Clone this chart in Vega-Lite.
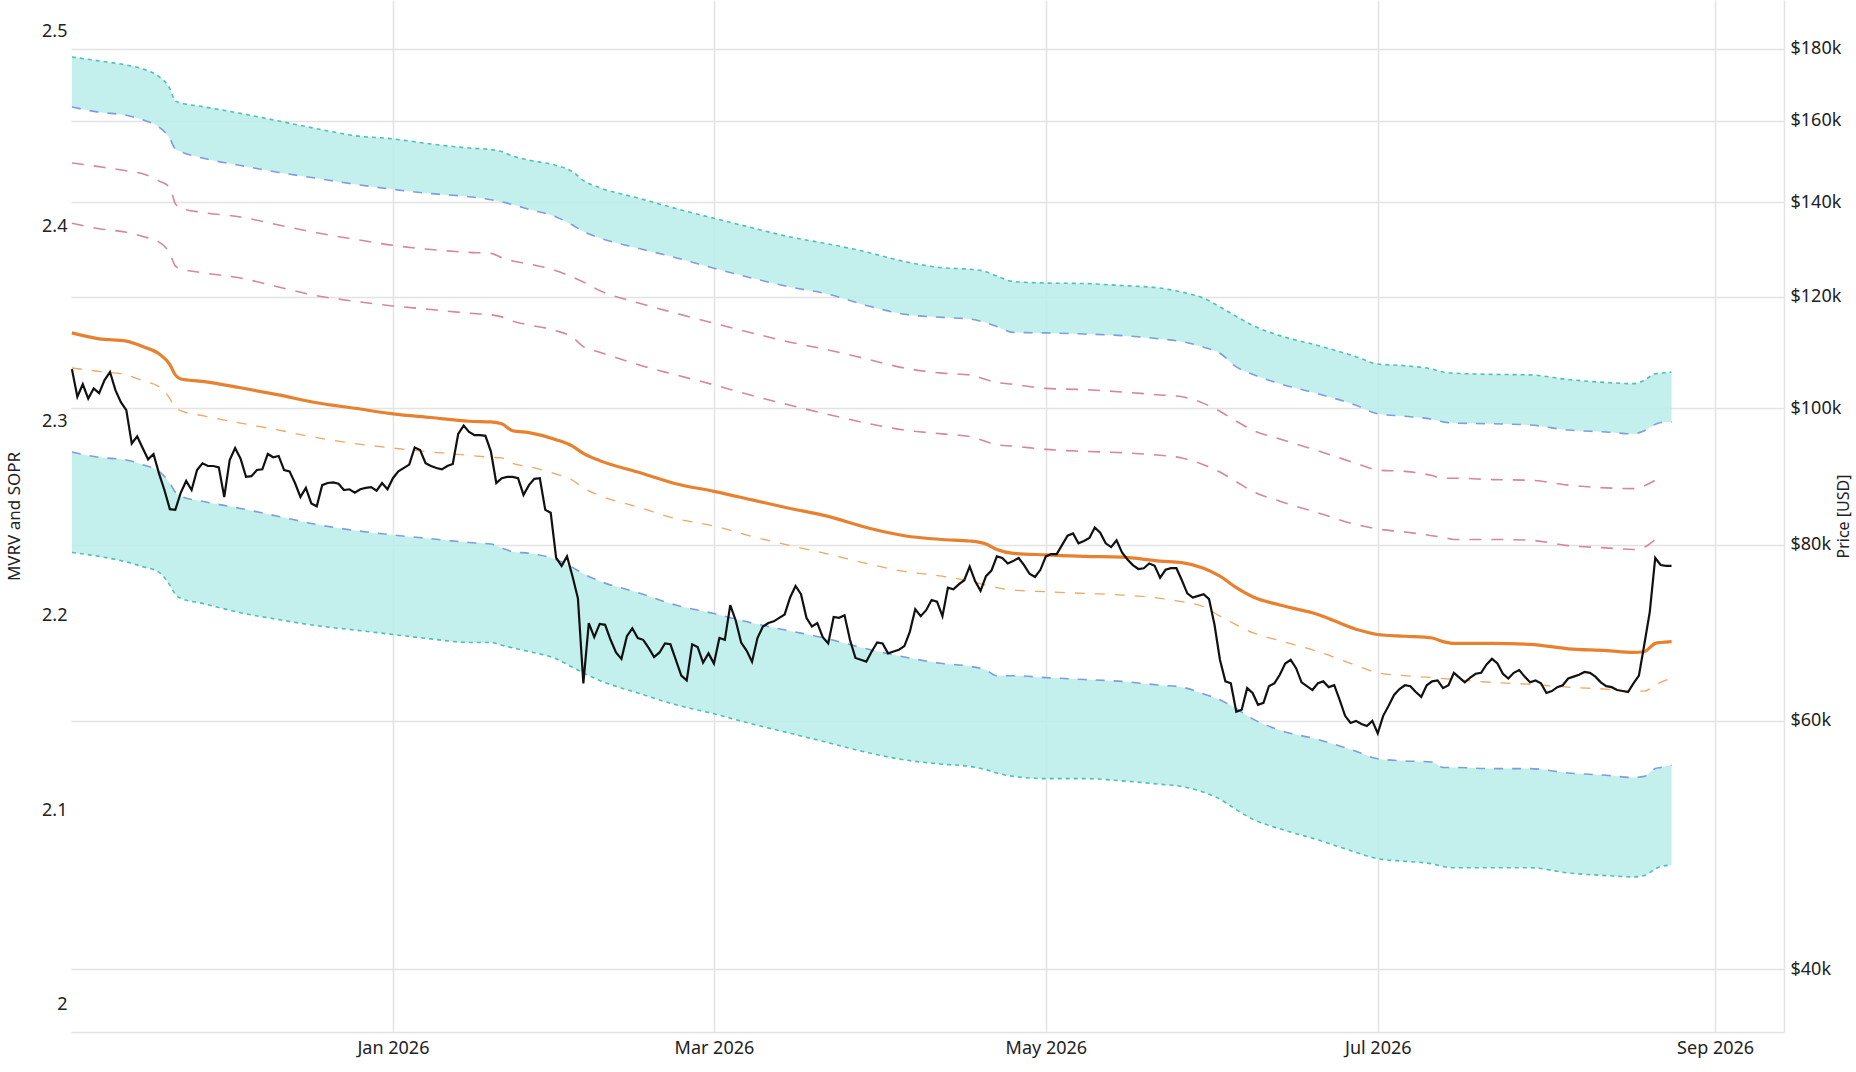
{
  "$schema": "https://vega.github.io/schema/vega-lite/v6.json",
  "width": 1713,
  "height": 1032,
  "autosize": {"type": "none"},
  "padding": {"left": 71, "top": 0, "right": 72, "bottom": 40},
  "background": "white",
  "config": {
    "view": {"stroke": null},
    "font": "Noto Sans",
    "axis": {"labelFont": "Noto Sans", "titleFont": "Noto Sans", "labelColor": "#222222", "titleColor": "#222222", "titleFontWeight": "normal"}
  },
  "datasets": {
    "mvrv": [{"date": "2025-11-03", "v": 2.0}, {"date": "2025-11-03", "v": 2.5}],
    "bands": [
      {"date": "2025-11-03", "ut": 177500, "ub": 163600, "pu": 149300, "pl": 135300, "os": 113100, "od": 106800, "lt": 93100, "lb": 79000},
      {"date": "2025-11-08", "ut": 176400, "ub": 162200, "pu": 148400, "pl": 134100, "os": 112000, "od": 106200, "lt": 92300, "lb": 78500},
      {"date": "2025-11-13", "ut": 175200, "ub": 161400, "pu": 147400, "pl": 133300, "os": 111600, "od": 105600, "lt": 91900, "lb": 77800},
      {"date": "2025-11-16", "ut": 174100, "ub": 160200, "pu": 146700, "pl": 132400, "os": 110600, "od": 104600, "lt": 91200, "lb": 77200},
      {"date": "2025-11-19", "ut": 171900, "ub": 158300, "pu": 145000, "pl": 131200, "os": 109300, "od": 103600, "lt": 90200, "lb": 76500},
      {"date": "2025-11-21", "ut": 168600, "ub": 155400, "pu": 143400, "pl": 128800, "os": 107400, "od": 101600, "lt": 88500, "lb": 74900},
      {"date": "2025-11-22", "ut": 165200, "ub": 152700, "pu": 139700, "pl": 126200, "os": 105600, "od": 100100, "lt": 87200, "lb": 73800},
      {"date": "2025-11-23", "ut": 164700, "ub": 152100, "pu": 138700, "pl": 125600, "os": 104900, "od": 99600, "lt": 86600, "lb": 73300},
      {"date": "2025-11-27", "ut": 163700, "ub": 150500, "pu": 137700, "pl": 124800, "os": 104500, "od": 98800, "lt": 85900, "lb": 72700},
      {"date": "2025-12-04", "ut": 161900, "ub": 148700, "pu": 136700, "pl": 123700, "os": 103400, "od": 97600, "lt": 84900, "lb": 71600},
      {"date": "2025-12-11", "ut": 159900, "ub": 147000, "pu": 134900, "pl": 121900, "os": 102200, "od": 96500, "lt": 83800, "lb": 70800},
      {"date": "2025-12-18", "ut": 157900, "ub": 145600, "pu": 133200, "pl": 120200, "os": 100900, "od": 95300, "lt": 82700, "lb": 70100},
      {"date": "2025-12-25", "ut": 156100, "ub": 144200, "pu": 131800, "pl": 119100, "os": 100000, "od": 94400, "lt": 81900, "lb": 69600},
      {"date": "2026-01-01", "ut": 155300, "ub": 143000, "pu": 130500, "pl": 118200, "os": 99100, "od": 93700, "lt": 81300, "lb": 69100},
      {"date": "2026-01-08", "ut": 154000, "ub": 142000, "pu": 129600, "pl": 117500, "os": 98500, "od": 93100, "lt": 80800, "lb": 68600},
      {"date": "2026-01-15", "ut": 153000, "ub": 141300, "pu": 129000, "pl": 116800, "os": 97900, "od": 92600, "lt": 80300, "lb": 68200},
      {"date": "2026-01-19", "ut": 152600, "ub": 140600, "pu": 128800, "pl": 116500, "os": 97800, "od": 92300, "lt": 80100, "lb": 68200},
      {"date": "2026-01-21", "ut": 152100, "ub": 140100, "pu": 127900, "pl": 116100, "os": 97500, "od": 92200, "lt": 79600, "lb": 67900},
      {"date": "2026-01-23", "ut": 151000, "ub": 139500, "pu": 127200, "pl": 115300, "os": 96400, "od": 91400, "lt": 79100, "lb": 67600},
      {"date": "2026-01-26", "ut": 150000, "ub": 138400, "pu": 126600, "pl": 114600, "os": 96100, "od": 90900, "lt": 78900, "lb": 67200},
      {"date": "2026-01-31", "ut": 148700, "ub": 136700, "pu": 125200, "pl": 113500, "os": 95000, "od": 89800, "lt": 78100, "lb": 66400},
      {"date": "2026-02-03", "ut": 147200, "ub": 134900, "pu": 123900, "pl": 112300, "os": 94000, "od": 88900, "lt": 77100, "lb": 65500},
      {"date": "2026-02-05", "ut": 145100, "ub": 133500, "pu": 122900, "pl": 110600, "os": 92900, "od": 87800, "lt": 76300, "lb": 64900},
      {"date": "2026-02-08", "ut": 143400, "ub": 132100, "pu": 121200, "pl": 109600, "os": 91800, "od": 86700, "lt": 75400, "lb": 64100},
      {"date": "2026-02-15", "ut": 141000, "ub": 129900, "pu": 118800, "pl": 107400, "os": 90100, "od": 85100, "lt": 74000, "lb": 62800},
      {"date": "2026-02-22", "ut": 138600, "ub": 127900, "pu": 116800, "pl": 105600, "os": 88400, "od": 83500, "lt": 72500, "lb": 61600},
      {"date": "2026-03-01", "ut": 136400, "ub": 125700, "pu": 114900, "pl": 103900, "os": 87300, "od": 82500, "lt": 71500, "lb": 60700},
      {"date": "2026-03-08", "ut": 134300, "ub": 123700, "pu": 113100, "pl": 102100, "os": 86100, "od": 81100, "lt": 70400, "lb": 59700},
      {"date": "2026-03-15", "ut": 132300, "ub": 121900, "pu": 111400, "pl": 100500, "os": 84900, "od": 79900, "lt": 69500, "lb": 58800},
      {"date": "2026-03-22", "ut": 130800, "ub": 120500, "pu": 110000, "pl": 99000, "os": 83800, "od": 78800, "lt": 68600, "lb": 57900},
      {"date": "2026-03-29", "ut": 129100, "ub": 118300, "pu": 108400, "pl": 97600, "os": 82300, "od": 77600, "lt": 67500, "lb": 57000},
      {"date": "2026-04-05", "ut": 127100, "ub": 116600, "pu": 106800, "pl": 96500, "os": 81200, "od": 76600, "lt": 66600, "lb": 56300},
      {"date": "2026-04-12", "ut": 125800, "ub": 116000, "pu": 105900, "pl": 95900, "os": 80700, "od": 76000, "lt": 65900, "lb": 55900},
      {"date": "2026-04-17", "ut": 125500, "ub": 115700, "pu": 105600, "pl": 95500, "os": 80500, "od": 75400, "lt": 65600, "lb": 55700},
      {"date": "2026-04-20", "ut": 125000, "ub": 115000, "pu": 104800, "pl": 94700, "os": 80100, "od": 74900, "lt": 65200, "lb": 55400},
      {"date": "2026-04-22", "ut": 124100, "ub": 114300, "pu": 104300, "pl": 94200, "os": 79400, "od": 74600, "lt": 64600, "lb": 55100},
      {"date": "2026-04-25", "ut": 123000, "ub": 113200, "pu": 104000, "pl": 94000, "os": 78900, "od": 74300, "lt": 64600, "lb": 54800},
      {"date": "2026-05-01", "ut": 122700, "ub": 113100, "pu": 103300, "pl": 93500, "os": 78700, "od": 74100, "lt": 64400, "lb": 54600},
      {"date": "2026-05-08", "ut": 122600, "ub": 112900, "pu": 103100, "pl": 93200, "os": 78500, "od": 73900, "lt": 64200, "lb": 54600},
      {"date": "2026-05-15", "ut": 122200, "ub": 112600, "pu": 102700, "pl": 93000, "os": 78400, "od": 73700, "lt": 64000, "lb": 54400},
      {"date": "2026-05-22", "ut": 121700, "ub": 112000, "pu": 102200, "pl": 92600, "os": 77900, "od": 73300, "lt": 63600, "lb": 54100},
      {"date": "2026-05-26", "ut": 120900, "ub": 111500, "pu": 101900, "pl": 92200, "os": 77700, "od": 72900, "lt": 63400, "lb": 53900},
      {"date": "2026-05-30", "ut": 119700, "ub": 110500, "pu": 100800, "pl": 91200, "os": 77000, "od": 72300, "lt": 62700, "lb": 53400},
      {"date": "2026-06-02", "ut": 118000, "ub": 109400, "pu": 99500, "pl": 90100, "os": 76000, "od": 71200, "lt": 62100, "lb": 52800},
      {"date": "2026-06-05", "ut": 116200, "ub": 107000, "pu": 97900, "pl": 88700, "os": 74600, "od": 70200, "lt": 61200, "lb": 51900},
      {"date": "2026-06-08", "ut": 114500, "ub": 105700, "pu": 96500, "pl": 87300, "os": 73500, "od": 69300, "lt": 60200, "lb": 51100},
      {"date": "2026-06-13", "ut": 112600, "ub": 104100, "pu": 95100, "pl": 85900, "os": 72500, "od": 68400, "lt": 59100, "lb": 50300},
      {"date": "2026-06-20", "ut": 110800, "ub": 102400, "pu": 93300, "pl": 84300, "os": 71400, "od": 67200, "lt": 58200, "lb": 49400},
      {"date": "2026-06-27", "ut": 108800, "ub": 100500, "pu": 91400, "pl": 82700, "os": 69700, "od": 65700, "lt": 57100, "lb": 48400},
      {"date": "2026-07-01", "ut": 107500, "ub": 99100, "pu": 90400, "pl": 82100, "os": 69100, "od": 64900, "lt": 56400, "lb": 47900},
      {"date": "2026-07-06", "ut": 107200, "ub": 98700, "pu": 90200, "pl": 81700, "os": 68900, "od": 64600, "lt": 56200, "lb": 47700},
      {"date": "2026-07-11", "ut": 106600, "ub": 98200, "pu": 89600, "pl": 81200, "os": 68700, "od": 64400, "lt": 56100, "lb": 47500},
      {"date": "2026-07-13", "ut": 106100, "ub": 97800, "pu": 89200, "pl": 81000, "os": 68300, "od": 64300, "lt": 55600, "lb": 47300},
      {"date": "2026-07-15", "ut": 105900, "ub": 97600, "pu": 89200, "pl": 80700, "os": 68100, "od": 64200, "lt": 55600, "lb": 47200},
      {"date": "2026-07-22", "ut": 105700, "ub": 97500, "pu": 89000, "pl": 80700, "os": 68100, "od": 63900, "lt": 55500, "lb": 47200},
      {"date": "2026-07-29", "ut": 105600, "ub": 97300, "pu": 88900, "pl": 80600, "os": 68000, "od": 63700, "lt": 55500, "lb": 47200},
      {"date": "2026-08-05", "ut": 104800, "ub": 96500, "pu": 88200, "pl": 79900, "os": 67500, "od": 63400, "lt": 55100, "lb": 46800},
      {"date": "2026-08-12", "ut": 104300, "ub": 96200, "pu": 87800, "pl": 79600, "os": 67300, "od": 63200, "lt": 54900, "lb": 46600},
      {"date": "2026-08-17", "ut": 104100, "ub": 95900, "pu": 87700, "pl": 79400, "os": 67100, "od": 63000, "lt": 54700, "lb": 46500},
      {"date": "2026-08-19", "ut": 104700, "ub": 96400, "pu": 88100, "pl": 79700, "os": 67200, "od": 63000, "lt": 54800, "lb": 46600},
      {"date": "2026-08-21", "ut": 105800, "ub": 97400, "pu": 88900, "pl": 80700, "os": 68100, "od": 63600, "lt": 55500, "lb": 47100},
      {"date": "2026-08-22", "ut": 105900, "ub": 97700, "pu": 89400, "pl": 81300, "os": 68200, "od": 63900, "lt": 55600, "lb": 47300},
      {"date": "2026-08-24", "ut": 106100, "ub": 97800, "pu": null, "pl": null, "os": 68300, "od": 64300, "lt": 55800, "lb": 47400}
    ],
    "price": [
      {"date": "2025-11-03", "price": 106600}, {"date": "2025-11-04", "price": 101900}, {"date": "2025-11-05", "price": 104000},
      {"date": "2025-11-06", "price": 101600}, {"date": "2025-11-07", "price": 103300}, {"date": "2025-11-08", "price": 102500},
      {"date": "2025-11-09", "price": 104700}, {"date": "2025-11-10", "price": 106100}, {"date": "2025-11-11", "price": 103000},
      {"date": "2025-11-12", "price": 101000}, {"date": "2025-11-13", "price": 99700}, {"date": "2025-11-14", "price": 94400},
      {"date": "2025-11-15", "price": 95500}, {"date": "2025-11-16", "price": 93700}, {"date": "2025-11-17", "price": 92000},
      {"date": "2025-11-18", "price": 92800}, {"date": "2025-11-19", "price": 89900}, {"date": "2025-11-20", "price": 87500},
      {"date": "2025-11-21", "price": 84800}, {"date": "2025-11-22", "price": 84700}, {"date": "2025-11-23", "price": 87100},
      {"date": "2025-11-24", "price": 88800}, {"date": "2025-11-25", "price": 87500}, {"date": "2025-11-26", "price": 90400},
      {"date": "2025-11-27", "price": 91400}, {"date": "2025-11-28", "price": 91000}, {"date": "2025-11-29", "price": 91000},
      {"date": "2025-11-30", "price": 90800}, {"date": "2025-12-01", "price": 86500}, {"date": "2025-12-02", "price": 91900},
      {"date": "2025-12-03", "price": 93700}, {"date": "2025-12-04", "price": 92100}, {"date": "2025-12-05", "price": 89400},
      {"date": "2025-12-06", "price": 89500}, {"date": "2025-12-07", "price": 90400}, {"date": "2025-12-08", "price": 90500},
      {"date": "2025-12-09", "price": 92800}, {"date": "2025-12-10", "price": 92300}, {"date": "2025-12-11", "price": 92500},
      {"date": "2025-12-12", "price": 90400}, {"date": "2025-12-13", "price": 90200}, {"date": "2025-12-14", "price": 88500},
      {"date": "2025-12-15", "price": 86500}, {"date": "2025-12-16", "price": 87800}, {"date": "2025-12-17", "price": 85600},
      {"date": "2025-12-18", "price": 85200}, {"date": "2025-12-19", "price": 88200}, {"date": "2025-12-20", "price": 88500},
      {"date": "2025-12-21", "price": 88600}, {"date": "2025-12-22", "price": 88400}, {"date": "2025-12-23", "price": 87500},
      {"date": "2025-12-24", "price": 87600}, {"date": "2025-12-25", "price": 87100}, {"date": "2025-12-26", "price": 87600},
      {"date": "2025-12-27", "price": 87800}, {"date": "2025-12-28", "price": 87900}, {"date": "2025-12-29", "price": 87400},
      {"date": "2025-12-30", "price": 88500}, {"date": "2025-12-31", "price": 87600}, {"date": "2026-01-01", "price": 89200},
      {"date": "2026-01-02", "price": 90200}, {"date": "2026-01-04", "price": 91200}, {"date": "2026-01-05", "price": 93800},
      {"date": "2026-01-06", "price": 93400}, {"date": "2026-01-07", "price": 91400}, {"date": "2026-01-08", "price": 91000},
      {"date": "2026-01-09", "price": 90700}, {"date": "2026-01-10", "price": 90500}, {"date": "2026-01-11", "price": 91000},
      {"date": "2026-01-12", "price": 91300}, {"date": "2026-01-13", "price": 95900}, {"date": "2026-01-14", "price": 97200},
      {"date": "2026-01-15", "price": 96200}, {"date": "2026-01-16", "price": 95700}, {"date": "2026-01-17", "price": 95700},
      {"date": "2026-01-18", "price": 95600}, {"date": "2026-01-19", "price": 93200}, {"date": "2026-01-20", "price": 88500},
      {"date": "2026-01-21", "price": 89200}, {"date": "2026-01-22", "price": 89400}, {"date": "2026-01-23", "price": 89400},
      {"date": "2026-01-24", "price": 89200}, {"date": "2026-01-25", "price": 86800}, {"date": "2026-01-26", "price": 88200},
      {"date": "2026-01-27", "price": 89100}, {"date": "2026-01-28", "price": 89200}, {"date": "2026-01-29", "price": 84700},
      {"date": "2026-01-30", "price": 84300}, {"date": "2026-01-31", "price": 78300}, {"date": "2026-02-01", "price": 77300},
      {"date": "2026-02-02", "price": 78500}, {"date": "2026-02-03", "price": 76000}, {"date": "2026-02-04", "price": 73300},
      {"date": "2026-02-05", "price": 63800}, {"date": "2026-02-06", "price": 70400}, {"date": "2026-02-07", "price": 68800},
      {"date": "2026-02-08", "price": 70300}, {"date": "2026-02-09", "price": 70200}, {"date": "2026-02-10", "price": 68500},
      {"date": "2026-02-11", "price": 67100}, {"date": "2026-02-12", "price": 66400}, {"date": "2026-02-13", "price": 68900},
      {"date": "2026-02-14", "price": 69800}, {"date": "2026-02-15", "price": 68700}, {"date": "2026-02-16", "price": 68500},
      {"date": "2026-02-17", "price": 67600}, {"date": "2026-02-18", "price": 66600}, {"date": "2026-02-19", "price": 67100},
      {"date": "2026-02-20", "price": 68100}, {"date": "2026-02-21", "price": 68000}, {"date": "2026-02-22", "price": 66300},
      {"date": "2026-02-23", "price": 64600}, {"date": "2026-02-24", "price": 64100}, {"date": "2026-02-25", "price": 68000},
      {"date": "2026-02-26", "price": 67700}, {"date": "2026-02-27", "price": 66000}, {"date": "2026-02-28", "price": 67000},
      {"date": "2026-03-01", "price": 65900}, {"date": "2026-03-02", "price": 68700}, {"date": "2026-03-03", "price": 68500},
      {"date": "2026-03-04", "price": 72500}, {"date": "2026-03-05", "price": 70700}, {"date": "2026-03-06", "price": 68200},
      {"date": "2026-03-07", "price": 67300}, {"date": "2026-03-08", "price": 66100}, {"date": "2026-03-09", "price": 68700},
      {"date": "2026-03-10", "price": 70000}, {"date": "2026-03-11", "price": 70400}, {"date": "2026-03-12", "price": 70600},
      {"date": "2026-03-13", "price": 71000}, {"date": "2026-03-14", "price": 71400}, {"date": "2026-03-15", "price": 73400},
      {"date": "2026-03-16", "price": 74800}, {"date": "2026-03-17", "price": 73800}, {"date": "2026-03-18", "price": 71000},
      {"date": "2026-03-19", "price": 70000}, {"date": "2026-03-20", "price": 70400}, {"date": "2026-03-21", "price": 68800},
      {"date": "2026-03-22", "price": 68100}, {"date": "2026-03-23", "price": 71100}, {"date": "2026-03-24", "price": 71000},
      {"date": "2026-03-25", "price": 71300}, {"date": "2026-03-26", "price": 68500}, {"date": "2026-03-27", "price": 66500},
      {"date": "2026-03-28", "price": 66300}, {"date": "2026-03-29", "price": 66100}, {"date": "2026-03-30", "price": 67200},
      {"date": "2026-03-31", "price": 68200}, {"date": "2026-04-01", "price": 68100}, {"date": "2026-04-02", "price": 67000},
      {"date": "2026-04-03", "price": 67200}, {"date": "2026-04-04", "price": 67400}, {"date": "2026-04-05", "price": 67800},
      {"date": "2026-04-06", "price": 69400}, {"date": "2026-04-07", "price": 72000}, {"date": "2026-04-08", "price": 71200},
      {"date": "2026-04-09", "price": 71900}, {"date": "2026-04-10", "price": 73100}, {"date": "2026-04-11", "price": 72900},
      {"date": "2026-04-12", "price": 71200}, {"date": "2026-04-13", "price": 74600}, {"date": "2026-04-14", "price": 74400},
      {"date": "2026-04-15", "price": 75000}, {"date": "2026-04-16", "price": 75500}, {"date": "2026-04-17", "price": 77200},
      {"date": "2026-04-18", "price": 75400}, {"date": "2026-04-19", "price": 74200}, {"date": "2026-04-20", "price": 76000},
      {"date": "2026-04-21", "price": 76700}, {"date": "2026-04-22", "price": 78500}, {"date": "2026-04-23", "price": 78300},
      {"date": "2026-04-24", "price": 77600}, {"date": "2026-04-25", "price": 77900}, {"date": "2026-04-26", "price": 78300},
      {"date": "2026-04-27", "price": 77400}, {"date": "2026-04-28", "price": 76300}, {"date": "2026-04-29", "price": 75900},
      {"date": "2026-04-30", "price": 76800}, {"date": "2026-05-01", "price": 78500}, {"date": "2026-05-02", "price": 78800},
      {"date": "2026-05-03", "price": 78800}, {"date": "2026-05-04", "price": 80000}, {"date": "2026-05-05", "price": 81200},
      {"date": "2026-05-06", "price": 81500}, {"date": "2026-05-07", "price": 80200}, {"date": "2026-05-08", "price": 80500},
      {"date": "2026-05-09", "price": 80900}, {"date": "2026-05-10", "price": 82300}, {"date": "2026-05-11", "price": 81600},
      {"date": "2026-05-12", "price": 80200}, {"date": "2026-05-13", "price": 79700}, {"date": "2026-05-14", "price": 80600},
      {"date": "2026-05-15", "price": 79000}, {"date": "2026-05-16", "price": 78100}, {"date": "2026-05-17", "price": 77400},
      {"date": "2026-05-18", "price": 76900}, {"date": "2026-05-19", "price": 77000}, {"date": "2026-05-20", "price": 77600},
      {"date": "2026-05-21", "price": 77300}, {"date": "2026-05-22", "price": 75800}, {"date": "2026-05-23", "price": 76800},
      {"date": "2026-05-24", "price": 77000}, {"date": "2026-05-25", "price": 77000}, {"date": "2026-05-26", "price": 75500},
      {"date": "2026-05-27", "price": 73900}, {"date": "2026-05-28", "price": 73400}, {"date": "2026-05-29", "price": 73600},
      {"date": "2026-05-30", "price": 73800}, {"date": "2026-05-31", "price": 73200}, {"date": "2026-06-01", "price": 70200},
      {"date": "2026-06-02", "price": 66300}, {"date": "2026-06-03", "price": 64000}, {"date": "2026-06-04", "price": 63800},
      {"date": "2026-06-05", "price": 60900}, {"date": "2026-06-06", "price": 61100}, {"date": "2026-06-07", "price": 63300},
      {"date": "2026-06-08", "price": 62800}, {"date": "2026-06-09", "price": 61600}, {"date": "2026-06-10", "price": 61800},
      {"date": "2026-06-11", "price": 63500}, {"date": "2026-06-12", "price": 63800}, {"date": "2026-06-13", "price": 64700},
      {"date": "2026-06-14", "price": 65900}, {"date": "2026-06-15", "price": 66300}, {"date": "2026-06-16", "price": 65400},
      {"date": "2026-06-17", "price": 63900}, {"date": "2026-06-19", "price": 63100}, {"date": "2026-06-20", "price": 63800},
      {"date": "2026-06-21", "price": 64000}, {"date": "2026-06-22", "price": 63400}, {"date": "2026-06-23", "price": 63600},
      {"date": "2026-06-24", "price": 62100}, {"date": "2026-06-25", "price": 60500}, {"date": "2026-06-26", "price": 59800},
      {"date": "2026-06-27", "price": 60000}, {"date": "2026-06-28", "price": 59700}, {"date": "2026-06-29", "price": 59500},
      {"date": "2026-06-30", "price": 60000}, {"date": "2026-07-01", "price": 58800}, {"date": "2026-07-02", "price": 60500},
      {"date": "2026-07-03", "price": 61500}, {"date": "2026-07-04", "price": 62600}, {"date": "2026-07-05", "price": 63200},
      {"date": "2026-07-06", "price": 63600}, {"date": "2026-07-07", "price": 63500}, {"date": "2026-07-08", "price": 62900},
      {"date": "2026-07-09", "price": 62400}, {"date": "2026-07-10", "price": 63600}, {"date": "2026-07-11", "price": 64000},
      {"date": "2026-07-12", "price": 64100}, {"date": "2026-07-13", "price": 63300}, {"date": "2026-07-14", "price": 63600},
      {"date": "2026-07-15", "price": 64900}, {"date": "2026-07-16", "price": 64400}, {"date": "2026-07-17", "price": 63900},
      {"date": "2026-07-18", "price": 64400}, {"date": "2026-07-19", "price": 64800}, {"date": "2026-07-20", "price": 64900},
      {"date": "2026-07-21", "price": 65800}, {"date": "2026-07-22", "price": 66400}, {"date": "2026-07-23", "price": 65900},
      {"date": "2026-07-24", "price": 64800}, {"date": "2026-07-25", "price": 64300}, {"date": "2026-07-26", "price": 64900},
      {"date": "2026-07-27", "price": 65200}, {"date": "2026-07-28", "price": 64500}, {"date": "2026-07-29", "price": 63900},
      {"date": "2026-07-30", "price": 64100}, {"date": "2026-07-31", "price": 63800}, {"date": "2026-08-01", "price": 62800},
      {"date": "2026-08-02", "price": 63000}, {"date": "2026-08-03", "price": 63400}, {"date": "2026-08-04", "price": 63600},
      {"date": "2026-08-05", "price": 64300}, {"date": "2026-08-06", "price": 64500}, {"date": "2026-08-07", "price": 64700},
      {"date": "2026-08-08", "price": 65000}, {"date": "2026-08-09", "price": 64900}, {"date": "2026-08-10", "price": 64500},
      {"date": "2026-08-11", "price": 63900}, {"date": "2026-08-12", "price": 63500}, {"date": "2026-08-13", "price": 63400},
      {"date": "2026-08-14", "price": 63100}, {"date": "2026-08-15", "price": 63000}, {"date": "2026-08-16", "price": 62900},
      {"date": "2026-08-17", "price": 63800}, {"date": "2026-08-18", "price": 64600}, {"date": "2026-08-19", "price": 68000},
      {"date": "2026-08-20", "price": 71700}, {"date": "2026-08-21", "price": 78300}, {"date": "2026-08-22", "price": 77400},
      {"date": "2026-08-23", "price": 77300}, {"date": "2026-08-24", "price": 77300}
    ]
  },
  "encoding": {
    "x": {
      "field": "date",
      "type": "temporal",
      "scale": {
        "type": "utc",
        "domain": [
          {"year": 2025, "month": 11, "date": 2, "hours": 20, "utc": true},
          {"year": 2026, "month": 9, "date": 13, "hours": 16, "utc": true}
        ]
      },
      "axis": {
        "values": [
          {"year": 2026, "month": 1, "date": 1, "utc": true},
          {"year": 2026, "month": 3, "date": 1, "utc": true},
          {"year": 2026, "month": 5, "date": 1, "utc": true},
          {"year": 2026, "month": 7, "date": 1, "utc": true},
          {"year": 2026, "month": 9, "date": 1, "utc": true}
        ],
        "format": "%b %Y",
        "title": null,
        "grid": true,
        "gridColor": "#e3e3e3",
        "gridWidth": 1.5,
        "domain": true,
        "domainColor": "#e3e3e3",
        "domainWidth": 1.5,
        "ticks": false,
        "labelPadding": 7,
        "labelFontSize": 18,
        "labelFlush": false
      }
    }
  },
  "layer": [
    {
      "data": {"name": "mvrv"},
      "mark": {"type": "point", "opacity": 0},
      "encoding": {
        "y": {
          "field": "v",
          "type": "quantitative",
          "scale": {"domain": [1.9861, 2.5164], "nice": false, "zero": false},
          "axis": {
            "orient": "left",
            "values": [2, 2.1, 2.2, 2.3, 2.4, 2.5],
            "format": "~g",
            "grid": false,
            "domain": false,
            "ticks": false,
            "labelPadding": 4,
            "labelFontSize": 18,
            "title": "MVRV and SOPR",
            "titleFontSize": 17,
            "titlePadding": 18
          }
        }
      }
    },
    {
      "data": {"name": "bands"},
      "mark": {"type": "area", "color": "#b8ede9", "opacity": 0.85, "interpolate": "monotone"},
      "encoding": {
        "y": {
          "field": "ut",
          "type": "quantitative",
          "scale": {"type": "log", "domain": [36090, 194850], "nice": false},
          "axis": {
            "orient": "right",
            "values": [40000, 60000, 80000, 100000, 120000, 140000, 160000, 180000],
            "format": "$~s",
            "grid": true,
            "gridColor": "#e3e3e3",
            "gridWidth": 1.5,
            "domain": true,
            "domainColor": "#e3e3e3",
            "domainWidth": 1.5,
            "ticks": false,
            "labelPadding": 6,
            "labelFontSize": 18,
            "title": "Price [USD]",
            "titleFontSize": 16,
            "titleAngle": 270,
            "titlePadding": 11
          }
        },
        "y2": {"field": "ub"}
      }
    },
    {
      "data": {"name": "bands"},
      "mark": {"type": "area", "color": "#b8ede9", "opacity": 0.85, "interpolate": "monotone"},
      "encoding": {
        "y": {"field": "lt", "type": "quantitative", "scale": {"type": "log", "domain": [36090, 194850], "nice": false}, "axis": null},
        "y2": {"field": "lb"}
      }
    },
    {
      "data": {"name": "bands"},
      "mark": {"type": "line", "color": "#4fc0b6", "strokeWidth": 1.6, "strokeDash": [4, 4], "interpolate": "monotone"},
      "encoding": {"y": {"field": "ut", "type": "quantitative", "scale": {"type": "log", "domain": [36090, 194850], "nice": false}, "axis": null}}
    },
    {
      "data": {"name": "bands"},
      "mark": {"type": "line", "color": "#4fc0b6", "strokeWidth": 1.6, "strokeDash": [4, 4], "interpolate": "monotone"},
      "encoding": {"y": {"field": "lb", "type": "quantitative", "scale": {"type": "log", "domain": [36090, 194850], "nice": false}, "axis": null}}
    },
    {
      "data": {"name": "bands"},
      "mark": {"type": "line", "color": "#7e9edb", "strokeWidth": 1.6, "strokeDash": [9, 9], "interpolate": "monotone"},
      "encoding": {"y": {"field": "ub", "type": "quantitative", "scale": {"type": "log", "domain": [36090, 194850], "nice": false}, "axis": null}}
    },
    {
      "data": {"name": "bands"},
      "mark": {"type": "line", "color": "#7e9edb", "strokeWidth": 1.6, "strokeDash": [9, 9], "interpolate": "monotone"},
      "encoding": {"y": {"field": "lt", "type": "quantitative", "scale": {"type": "log", "domain": [36090, 194850], "nice": false}, "axis": null}}
    },
    {
      "data": {"name": "bands"},
      "mark": {"type": "line", "color": "#d6879c", "strokeWidth": 1.6, "strokeDash": [12, 10], "interpolate": "monotone"},
      "encoding": {"y": {"field": "pu", "type": "quantitative", "scale": {"type": "log", "domain": [36090, 194850], "nice": false}, "axis": null}}
    },
    {
      "data": {"name": "bands"},
      "mark": {"type": "line", "color": "#d6879c", "strokeWidth": 1.6, "strokeDash": [12, 10], "interpolate": "monotone"},
      "encoding": {"y": {"field": "pl", "type": "quantitative", "scale": {"type": "log", "domain": [36090, 194850], "nice": false}, "axis": null}}
    },
    {
      "data": {"name": "bands"},
      "mark": {"type": "line", "color": "#f0a660", "strokeWidth": 1.3, "strokeDash": [10, 10], "interpolate": "monotone"},
      "encoding": {"y": {"field": "od", "type": "quantitative", "scale": {"type": "log", "domain": [36090, 194850], "nice": false}, "axis": null}}
    },
    {
      "data": {"name": "bands"},
      "mark": {"type": "line", "color": "#e8812f", "strokeWidth": 3.2, "interpolate": "monotone"},
      "encoding": {"y": {"field": "os", "type": "quantitative", "scale": {"type": "log", "domain": [36090, 194850], "nice": false}, "axis": null}}
    },
    {
      "data": {"name": "price"},
      "mark": {"type": "line", "color": "#111111", "strokeWidth": 2.2},
      "encoding": {"y": {"field": "price", "type": "quantitative", "scale": {"type": "log", "domain": [36090, 194850], "nice": false}, "axis": null}}
    }
  ],
  "resolve": {"scale": {"y": "independent"}, "axis": {"y": "independent"}}
}
